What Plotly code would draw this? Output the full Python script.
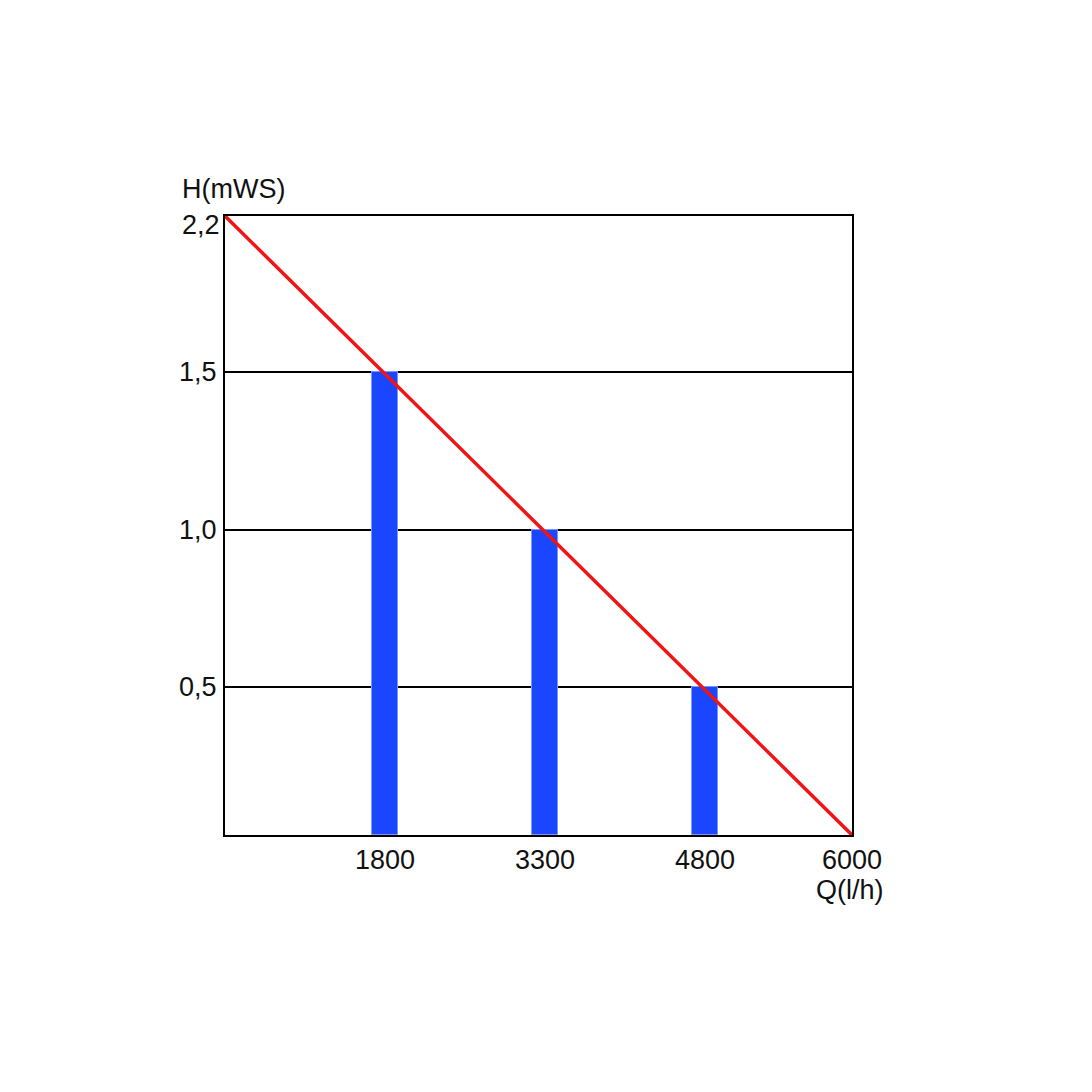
import numpy as np
import plotly.graph_objects as go

# ---- data ----
q_ticks = [0, 1800, 3300, 4800, 6000]          # Q (l/h) tick values
q_labels = ["", "1800", "3300", "4800", "6000"]
h_ticks = [0, 0.5, 1.0, 1.5, 2.2]              # H (mWS) tick values
h_labels = ["", "0,5", "1,0", "1,5", "2,2"]

bar_q = [1800, 3300, 4800]
bar_h = [1.5, 1.0, 0.5]

curve_q = [0, 6000]
curve_h = [2.2, 0]

# ---- schematic (non-linear) axis scales as drawn in the reference ----
q_pos = [0, 1, 2, 3, 3.919]
h_pos = [0, 0.94, 1.937, 2.94, 3.93]


def qx(v):
    return np.interp(v, q_ticks, q_pos)


def hy(v):
    return np.interp(v, h_ticks, h_pos)


FONT = "Liberation Sans, Arial, Helvetica, sans-serif"
TXT = "#111111"
FS = 27

fig = go.Figure()

fig.add_trace(go.Bar(
    x=qx(bar_q), y=hy(bar_h), width=0.1625,
    marker=dict(color="#1a46ff", line=dict(color="#7a97ff", width=1)),
    showlegend=False, hoverinfo="skip",
))

fig.add_trace(go.Scatter(
    x=qx(curve_q), y=hy(curve_h), mode="lines",
    line=dict(color="#f01414", width=3.5),
    showlegend=False, cliponaxis=False, hoverinfo="skip",
))

fig.update_layout(
    width=1076, height=1076, autosize=False,
    paper_bgcolor="white", plot_bgcolor="white",
    margin=dict(l=217, r=232, t=208, b=249),
    font=dict(family=FONT, size=FS, color=TXT),
    bargap=0,
    xaxis=dict(
        range=[qx(0), qx(6000)],
        tickmode="array", tickvals=list(qx(q_ticks[1:])), ticktext=q_labels[1:],
        showgrid=False, zeroline=False,
        showline=True, mirror=True, linecolor="black", linewidth=2,
        ticks="", ticklabelstandoff=0,
        tickfont=dict(family=FONT, size=FS, color=TXT),
    ),
    yaxis=dict(
        range=[hy(0), hy(2.2)],
        tickmode="array", tickvals=list(hy(h_ticks[1:4])), ticktext=h_labels[1:4],
        showgrid=True, gridcolor="black", gridwidth=2, zeroline=False,
        showline=True, mirror=True, linecolor="black", linewidth=2,
        ticks="", ticklabelstandoff=1,
        tickfont=dict(family=FONT, size=FS, color=TXT),
    ),
    annotations=[
        dict(x=0, y=hy(2.2), xref="x", yref="y", text=h_labels[4],
             xanchor="right", yanchor="middle", xshift=-3, yshift=-9,
             showarrow=False, font=dict(family=FONT, size=FS, color=TXT)),
        dict(x=0, y=hy(2.2), xref="x", yref="y", text="H(mWS)",
             xanchor="left", yanchor="middle", xshift=-45, yshift=27,
             showarrow=False, font=dict(family=FONT, size=FS, color=TXT)),
        dict(x=qx(6000), y=0, xref="x", yref="y", text="Q(l/h)",
             xanchor="center", yanchor="middle", xshift=-2, yshift=-55,
             showarrow=False, font=dict(family=FONT, size=FS, color=TXT)),
    ],
)

fig.write_html("out.html")
